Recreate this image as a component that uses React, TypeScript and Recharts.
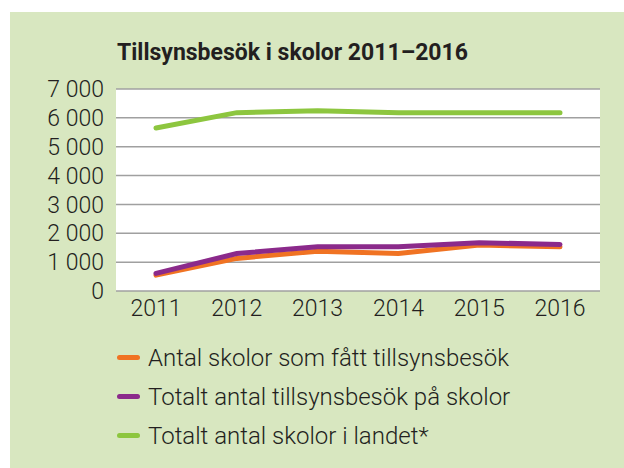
import { LineChart, Line, XAxis, YAxis, CartesianGrid } from "recharts";

const years = ["2011", "2012", "2013", "2014", "2015", "2016"];
const skolorBesok = [550, 1130, 1380, 1300, 1590, 1530];
const totaltBesok = [610, 1300, 1530, 1530, 1670, 1615];
const skolorLandet = [5650, 6180, 6250, 6180, 6180, 6180];
const yTicks = [0, 1000, 2000, 3000, 4000, 5000, 6000, 7000];

const series = [
  { key: "skolorBesok", name: "Antal skolor som fått tillsynsbesök", color: "#f07323" },
  { key: "totaltBesok", name: "Totalt antal tillsynsbesök på skolor", color: "#8b2a8b" },
  { key: "skolorLandet", name: "Totalt antal skolor i landet*", color: "#8dc63f" },
];

const data = years.map((year, i) => ({
  year,
  skolorBesok: skolorBesok[i],
  totaltBesok: totaltBesok[i],
  skolorLandet: skolorLandet[i],
}));

const fmt = (v: number) => (v >= 1000 ? `${Math.floor(v / 1000)} 000` : `${v}`);

const font = "Roboto, 'Noto Sans', sans-serif";
const tickStyle = { fill: "#231f20", fontSize: 23, fontWeight: 300, fontFamily: font };

export default function App() {
  return (
    <div
      style={{
        position: "absolute",
        left: 10,
        top: 12,
        width: 614,
        height: 456,
        background: "#d8e7c0",
        fontFamily: font,
      }}
    >
      <div
        style={{
          position: "absolute",
          left: 107,
          top: 27,
          fontSize: 23,
          fontWeight: 700,
          color: "#231f20",
          whiteSpace: "nowrap",
        }}
      >
        Tillsynsbesök i skolor 2011–2016
      </div>
      <LineChart
        width={614}
        height={456}
        data={data}
        margin={{ top: 77, right: 24, left: 0, bottom: 137 }}
      >
        <CartesianGrid vertical={false} stroke="#a0a0a0" strokeWidth={1.5} fill="#ffffff" />
        <XAxis
          dataKey="year"
          padding={{ left: 40, right: 40 }}
          axisLine={false}
          tickLine={false}
          tickSize={0}
          tickMargin={9}
          height={40}
          tick={tickStyle}
        />
        <YAxis
          width={106}
          domain={[0, 7000]}
          ticks={yTicks}
          tickFormatter={fmt}
          axisLine={false}
          tickLine={false}
          tickSize={0}
          tickMargin={12}
          interval={0}
          tick={tickStyle}
        />
        {series.map((s) => (
          <Line
            key={s.key}
            type="linear"
            dataKey={s.key}
            name={s.name}
            stroke={s.color}
            strokeWidth={5}
            strokeLinecap="round"
            dot={false}
            isAnimationActive={false}
          />
        ))}
      </LineChart>
      <div style={{ position: "absolute", left: 107, top: 326 }}>
        {series.map((s) => (
          <div
            key={s.key}
            style={{ display: "flex", alignItems: "center", height: 39, whiteSpace: "nowrap" }}
          >
            <span
              style={{
                display: "inline-block",
                width: 23,
                height: 5,
                borderRadius: 3,
                background: s.color,
                marginRight: 8,
              }}
            />
            <span style={{ fontSize: 24, fontWeight: 300, color: "#231f20" }}>{s.name}</span>
          </div>
        ))}
      </div>
    </div>
  );
}
